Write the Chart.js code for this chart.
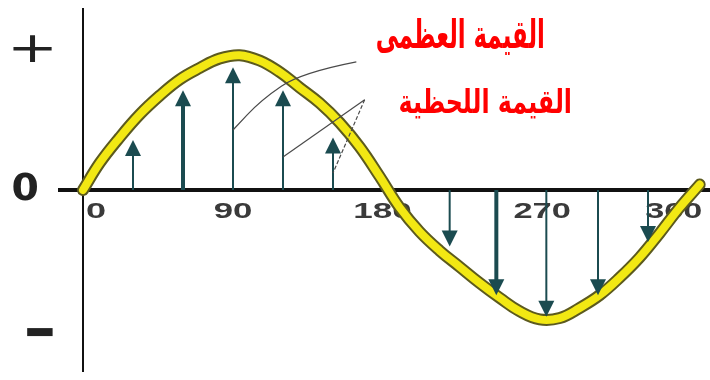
<!DOCTYPE html>
<html>
<head>
<meta charset="utf-8">
<script src="https://cdn.jsdelivr.net/npm/chart.js@4.4.1/dist/chart.umd.min.js"></script>
<style>
  html, body { margin: 0; padding: 0; background: #fff; }
  #wrap { width: 710px; height: 380px; }
</style>
</head>
<body>
<div id="wrap"><canvas id="sineChart" width="710" height="380"></canvas></div>
<script>
  // Sine curve (angle in degrees, value in units of the peak)
  const curveAngles = [0, 10, 22, 34, 46, 58, 70, 82, 94, 106, 118, 130, 142, 154, 166, 178, 190, 202, 214, 226, 238, 250, 262, 274, 286, 298, 310, 322, 334, 346, 358, 370];
  const curveValues = [0, 0.2, 0.39, 0.56, 0.7, 0.82, 0.905, 0.975, 1.0, 0.96, 0.875, 0.76, 0.645, 0.5, 0.32, 0.1, -0.13, -0.31, -0.45, -0.57, -0.69, -0.8, -0.9, -0.96, -0.95, -0.875, -0.78, -0.65, -0.5, -0.32, -0.13, 0.04];

  // Instantaneous value arrows
  const arrowAngles = [30, 60, 90, 120, 150, 220, 248, 278, 309, 339];
  const arrowValues = [0.37, 0.74, 0.91, 0.74, 0.39, -0.42, -0.78, -0.94, -0.78, -0.385];

  // x axis tick labels
  const tickValues = [0, 90, 180, 270, 360];
  const tickLabels = ['0', '90', '180', '270', '360'];

  // callout texts
  const maxLabel = 'القيمة العظمى';
  const instLabel = 'القيمة اللحظية';

  // leader lines (data units)
  const maxLeader = [[164, 0.95], [131, 0.87], [107, 0.67], [90, 0.445]];
  const instLeaders = [[[169, 0.67], [120, 0.245]], [[169, 0.67], [150, 0.126]]];
  const thickArrows = [60, 248];

  const arrowColor = '#1b4b50';

  // draw text squeezed/stretched into a pixel box
  function fitText(ctx, text, font, box, color) {
    ctx.save();
    ctx.font = font.replace('SIZE', '100px');
    const m = ctx.measureText(text);
    const bw = m.actualBoundingBoxLeft + m.actualBoundingBoxRight;
    const bh = m.actualBoundingBoxAscent + m.actualBoundingBoxDescent;
    const k = box.h / bh;
    const sx = box.w / (bw * k);
    ctx.translate(box.x, box.y);
    ctx.scale(sx, 1);
    ctx.font = font.replace('SIZE', (100 * k).toFixed(2) + 'px');
    ctx.fillStyle = color;
    ctx.textAlign = 'left';
    ctx.textBaseline = 'alphabetic';
    ctx.fillText(text, m.actualBoundingBoxLeft * k, m.actualBoundingBoxAscent * k);
    ctx.restore();
  }

  const axesPlugin = {
    id: 'axesPlugin',
    beforeDatasetsDraw(chart) {
      const { ctx, chartArea, scales: { x, y } } = chart;
      const x0 = x.getPixelForValue(0);
      const y0 = y.getPixelForValue(0);
      ctx.save();
      ctx.strokeStyle = '#111';
      ctx.lineWidth = 2;
      ctx.beginPath();
      ctx.moveTo(x0, chartArea.top);
      ctx.lineTo(x0, chartArea.bottom);
      ctx.stroke();
      ctx.lineWidth = 4;
      ctx.beginPath();
      ctx.moveTo(chartArea.left, y0);
      ctx.lineTo(chartArea.right, y0);
      ctx.stroke();
      ctx.restore();

      // tick labels under the axis
      tickLabels.forEach((t, i) => {
        const px = x.getPixelForValue(tickValues[i]);
        const w = t.length * 18.7 - 1;
        let left = px - w / 2;
        if (i === 0) left = px + 4;
        if (i === tickLabels.length - 1) left = px - w + 18;
        if (tickValues[i] === 270) left += 9;
        fitText(ctx, t, 'bold SIZE "Liberation Sans"', { x: left, y: y0 + 12, w: w, h: 16 }, '#3a3a3a');
      });

      // sign marks on the left
      fitText(ctx, '+', 'SIZE "DejaVu Sans"', { x: 13, y: 35, w: 39, h: 27 }, '#222');
      fitText(ctx, '0', 'bold SIZE "DejaVu Sans"', { x: 13, y: y0 - 18, w: 24, h: 28 }, '#222');
      fitText(ctx, '\u2212', 'bold SIZE "DejaVu Sans"', { x: 27, y: 328, w: 26, h: 9 }, '#222');
    },
    afterDatasetsDraw(chart) {
      const { ctx, scales: { x, y } } = chart;
      const y0 = y.getPixelForValue(0);
      ctx.save();
      ctx.strokeStyle = arrowColor;
      ctx.fillStyle = arrowColor;
      arrowAngles.forEach((a, i) => {
        const px = x.getPixelForValue(a);
        const py = y.getPixelForValue(arrowValues[i]);
        const dir = py < y0 ? 1 : -1;
        ctx.lineWidth = thickArrows.includes(a) ? 4 : 2;
        ctx.beginPath();
        ctx.moveTo(px, y0);
        ctx.lineTo(px, py + dir * 10);
        ctx.stroke();
        ctx.beginPath();
        ctx.moveTo(px, py);
        ctx.lineTo(px - 8, py + dir * 16);
        ctx.lineTo(px + 8, py + dir * 16);
        ctx.closePath();
        ctx.fill();
      });

      // leader lines
      ctx.strokeStyle = '#4a4a4a';
      ctx.lineWidth = 1.2;
      const pts = maxLeader.map(p => [x.getPixelForValue(p[0]), y.getPixelForValue(p[1])]);
      ctx.beginPath();
      ctx.moveTo(pts[0][0], pts[0][1]);
      for (let i = 1; i < pts.length - 1; i++) {
        const mx = (pts[i][0] + pts[i + 1][0]) / 2;
        const my = (pts[i][1] + pts[i + 1][1]) / 2;
        ctx.quadraticCurveTo(pts[i][0], pts[i][1], mx, my);
      }
      ctx.lineTo(pts[pts.length - 1][0], pts[pts.length - 1][1]);
      ctx.stroke();
      instLeaders.forEach((seg, i) => {
        ctx.setLineDash(i === 1 ? [4, 2] : []);
        ctx.beginPath();
        ctx.moveTo(x.getPixelForValue(seg[0][0]), y.getPixelForValue(seg[0][1]));
        ctx.lineTo(x.getPixelForValue(seg[1][0]), y.getPixelForValue(seg[1][1]));
        ctx.stroke();
      });
      ctx.setLineDash([]);
      ctx.restore();

      // red callouts
      fitText(ctx, maxLabel, 'bold SIZE "DejaVu Sans"', { x: 377, y: 18, w: 166, h: 37 }, '#ff0000');
      fitText(ctx, instLabel, 'bold SIZE "DejaVu Sans"', { x: 400, y: 88, w: 170, h: 31 }, '#ff0000');
    }
  };

  const curvePoints = curveAngles.map((a, i) => ({ x: a, y: curveValues[i] }));

  const sineChart = new Chart(document.getElementById('sineChart').getContext('2d'), {
    type: 'line',
    data: {
      datasets: [{
        data: curvePoints,
        borderColor: '#f2e813',
        borderWidth: 8,
        pointRadius: 0,
        tension: 0.4,
        borderCapStyle: 'round',
        borderJoinStyle: 'round',
        fill: false
      }, {
        data: curvePoints,
        borderColor: '#5c5a1e',
        borderWidth: 12,
        pointRadius: 0,
        tension: 0.4,
        borderCapStyle: 'round',
        borderJoinStyle: 'round',
        fill: false
      }]
    },
    options: {
      responsive: false,
      animation: false,
      devicePixelRatio: 1,
      layout: { padding: { left: 58, right: 0, top: 8, bottom: 8 } },
      scales: {
        x: { type: 'linear', min: -15, max: 376.2, display: false },
        y: { min: -1.35, max: 1.35, display: false }
      },
      plugins: {
        legend: { display: false },
        tooltip: { enabled: false }
      }
    },
    plugins: [axesPlugin]
  });
</script>
</body>
</html>
